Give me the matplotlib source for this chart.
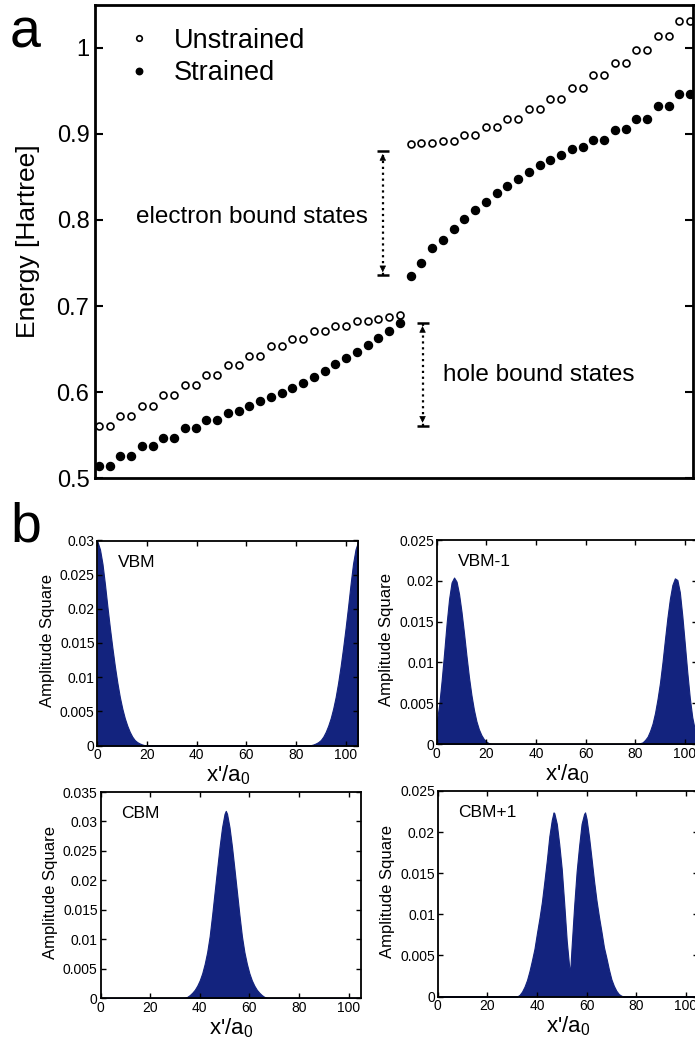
import matplotlib
matplotlib.use("Agg")
import matplotlib.pyplot as plt
from matplotlib.ticker import FuncFormatter, MultipleLocator

plt.rcParams['font.family'] = ['Liberation Sans', 'DejaVu Sans']
plt.rcParams['mathtext.fontset'] = 'custom'
plt.rcParams['mathtext.rm'] = 'Liberation Sans'
plt.rcParams['mathtext.it'] = 'Liberation Sans'

# -------------------------------
# Panel a: energy levels (state index vs energy)
# -------------------------------
hole_idx = list(range(1, 30))
elec_idx = list(range(30, 57))

unstrained_hole = [0.560, 0.560, 0.572, 0.572, 0.584, 0.584, 0.596, 0.596, 0.608, 0.608,
                   0.620, 0.620, 0.631, 0.631, 0.642, 0.642, 0.653, 0.653, 0.662, 0.662,
                   0.671, 0.671, 0.677, 0.677, 0.683, 0.683, 0.685, 0.687, 0.689]
strained_hole = [0.514, 0.514, 0.526, 0.526, 0.537, 0.537, 0.547, 0.547, 0.558, 0.558,
                 0.568, 0.568, 0.576, 0.578, 0.584, 0.589, 0.594, 0.599, 0.605, 0.611,
                 0.618, 0.625, 0.632, 0.640, 0.647, 0.655, 0.663, 0.671, 0.680]
unstrained_elec = [0.888, 0.889, 0.889, 0.892, 0.892, 0.899, 0.899, 0.908, 0.908, 0.917,
                   0.917, 0.929, 0.929, 0.941, 0.941, 0.954, 0.954, 0.969, 0.969, 0.983,
                   0.983, 0.998, 0.998, 1.014, 1.014, 1.031, 1.031]
strained_elec = [0.735, 0.750, 0.767, 0.777, 0.789, 0.801, 0.812, 0.821, 0.831, 0.840,
                 0.848, 0.856, 0.864, 0.870, 0.876, 0.882, 0.885, 0.893, 0.893, 0.905,
                 0.906, 0.918, 0.918, 0.932, 0.932, 0.946, 0.946]

# bound state ranges marked with arrows (state index, lower, upper energy)
electron_arrow = (27.4, 0.736, 0.880)
hole_arrow = (31.1, 0.561, 0.680)

# -------------------------------
# Panel b: amplitude squared along x'/a0
# -------------------------------
vbm_x = [0, 1, 2, 3, 4, 5, 6, 7, 8, 9, 10, 11, 12, 13, 14, 15, 16, 17, 18, 19, 20,
         85, 86, 87, 88, 89, 90, 91, 92, 93, 94, 95, 96, 97, 98, 99, 100, 101, 102, 103, 104, 105]
vbm_y = [0.0298, 0.0287, 0.0266, 0.0236, 0.0203, 0.0172, 0.0143, 0.0116, 0.0092, 0.0071,
         0.0054, 0.0040, 0.0029, 0.0020, 0.0013, 0.0008, 0.0005, 0.0003, 0.00015, 0.00005, 0.0,
         0.0, 0.00005, 0.00015, 0.0003, 0.0005, 0.0008, 0.0013, 0.0020, 0.0029, 0.0040,
         0.0054, 0.0071, 0.0092, 0.0116, 0.0143, 0.0172, 0.0203, 0.0236, 0.0266, 0.0287, 0.0298]

vbm1_x = [0, 1, 2, 3, 4, 5, 6, 7, 8, 9, 10, 11, 12, 13, 14, 15, 16, 17, 18, 19, 20, 21, 22,
          81, 82, 83, 84, 85, 86, 87, 88, 89, 90, 91, 92, 93, 94, 95, 96, 97, 98, 99, 100,
          101, 102, 103, 104, 105]
vbm1_y = [0.0027, 0.0048, 0.0078, 0.0112, 0.0148, 0.0178, 0.0198, 0.0204, 0.0199, 0.0184,
          0.0162, 0.0136, 0.0108, 0.0082, 0.0060, 0.0042, 0.0028, 0.0018, 0.0011, 0.0006,
          0.0003, 0.0001, 0.0,
          0.0, 0.0001, 0.0002, 0.0005, 0.0009, 0.0016, 0.0025, 0.0038, 0.0055, 0.0075,
          0.0100, 0.0128, 0.0155, 0.0178, 0.0195, 0.0203, 0.0201, 0.0186, 0.0157, 0.0123,
          0.0088, 0.0057, 0.0033, 0.0018, 0.0010]

cbm_x = [0, 33, 34, 35, 36, 37, 38, 39, 40, 41, 42, 43, 44, 45, 46, 47, 48, 49, 50, 50.5,
         51, 52, 53, 54, 55, 56, 57, 58, 59, 60, 61, 62, 63, 64, 65, 66, 67, 68, 105]
cbm_y = [0.0, 0.0, 0.00005, 0.0002, 0.0005, 0.0009, 0.0014, 0.0021, 0.0030, 0.0042, 0.0058,
         0.0078, 0.0105, 0.0141, 0.0180, 0.0219, 0.0257, 0.0290, 0.0313, 0.0318,
         0.0313, 0.0290, 0.0257, 0.0219, 0.0180, 0.0141, 0.0105, 0.0078, 0.0058, 0.0042,
         0.0030, 0.0021, 0.0014, 0.0009, 0.0005, 0.0002, 0.00005, 0.0, 0.0]

cbm1_x = [0, 32, 33, 34, 35, 36, 37, 38, 39, 40, 41, 42, 43, 44, 45, 46, 46.7, 47, 48, 49,
          50, 51, 52, 53, 53.4, 54, 55, 56, 57, 58, 59, 59.4, 60, 61, 62, 63, 64, 65, 66,
          67, 68, 69, 70, 71, 72, 73, 74, 75, 105]
cbm1_y = [0.0, 0.0, 0.0002, 0.0006, 0.0012, 0.0020, 0.0031, 0.0044, 0.0058, 0.0077, 0.0095,
          0.0115, 0.0140, 0.0166, 0.0195, 0.0215, 0.0224, 0.0223, 0.0210, 0.0185,
          0.0155, 0.0113, 0.0068, 0.0036, 0.0031, 0.0062, 0.0110, 0.0152, 0.0183, 0.0210,
          0.0222, 0.0224, 0.0216, 0.0194, 0.0168, 0.0141, 0.0117, 0.0097, 0.0079,
          0.0060, 0.0047, 0.0033, 0.0021, 0.0013, 0.0007, 0.0003, 0.0001, 0.0, 0.0]

W, H = 695, 1042


def px_box(left, top, right, bottom):
    return [left / W, 1 - bottom / H, (right - left) / W, (bottom - top) / H]


fmt_g = FuncFormatter(lambda v, p: f"{v:g}")

fig = plt.figure(figsize=(W / 100, H / 100), dpi=100)

# -------------------------------
# Panel a
# -------------------------------
ax = fig.add_axes(px_box(95, 5, 693, 478))
ax.plot(hole_idx, unstrained_hole, 'o', mfc='white', mec='black', mew=1.2, ms=5, label='Unstrained')
ax.plot(elec_idx, unstrained_elec, 'o', mfc='white', mec='black', mew=1.2, ms=5)
ax.plot(hole_idx, strained_hole, 'o', color='black', ms=5.8, label='Strained')
ax.plot(elec_idx, strained_elec, 'o', color='black', ms=5.8)

for xa, lo, hi in [electron_arrow, hole_arrow]:
    ax.plot([xa, xa], [lo, hi], ':', color='black', lw=1.6)
    ax.plot([xa], [hi], marker='_', color='black', ms=9, mew=1.8)
    ax.plot([xa], [lo], marker='_', color='black', ms=9, mew=1.8)
    ax.annotate('', xy=(xa, hi), xytext=(xa, hi - 0.012),
                arrowprops=dict(arrowstyle='-|>', color='black', lw=0.5, mutation_scale=10))
    ax.annotate('', xy=(xa, lo), xytext=(xa, lo + 0.012),
                arrowprops=dict(arrowstyle='-|>', color='black', lw=0.5, mutation_scale=10))

ax.text(26.0, 0.803, 'electron bound states', fontsize=17.5, ha='right', va='center')
ax.text(33.0, 0.620, 'hole bound states', fontsize=17.5, ha='left', va='center')

ax.set_xlim(0.63, 56.26)
ax.set_ylim(0.5, 1.05)
ax.set_xticks([])
ax.set_yticks([0.5, 0.6, 0.7, 0.8, 0.9, 1.0])
ax.yaxis.set_major_formatter(fmt_g)
ax.tick_params(axis='y', direction='in', right=True, length=6, width=1.5, labelsize=17, pad=4)
for s in ax.spines.values():
    s.set_linewidth(2)
ax.set_ylabel('Energy [Hartree]', fontsize=19)
ax.yaxis.set_label_coords(-0.092, 0.5)
ax.legend(loc='upper left', bbox_to_anchor=(0.032, 0.975), frameon=False, fontsize=19.5,
          handlelength=1.0, handletextpad=0.8, labelspacing=0.25, borderaxespad=0, markerscale=0.8)

fig.text(10 / W, 1 - 47 / H, 'a', fontsize=40, va='baseline')
fig.text(10 / W, 1 - 542 / H, 'b', fontsize=40, va='baseline')

# -------------------------------
# Panel b
# -------------------------------
navy = '#13237e'
panels = [
    (px_box(97.5, 540.5, 358, 745.5), vbm_x, vbm_y, 0.03, 'VBM'),
    (px_box(436.7, 540, 697.2, 744), vbm1_x, vbm1_y, 0.025, 'VBM-1'),
    (px_box(100.5, 792, 361, 998), cbm_x, cbm_y, 0.035, 'CBM'),
    (px_box(437.7, 791, 698.2, 996.5), cbm1_x, cbm1_y, 0.025, 'CBM+1'),
]
for rect, xs, ys, ytop, name in panels:
    bx = fig.add_axes(rect)
    bx.fill_between(xs, ys, 0, color=navy, lw=0.8)
    bx.set_xlim(0, 105)
    bx.set_ylim(0, ytop)
    bx.xaxis.set_major_locator(MultipleLocator(20))
    bx.yaxis.set_major_locator(MultipleLocator(0.005))
    bx.yaxis.set_major_formatter(fmt_g)
    bx.tick_params(direction='in', top=True, right=True, length=3.5, width=1, labelsize=10, pad=2)
    for s in bx.spines.values():
        s.set_linewidth(1.3)
    bx.text(0.08, 0.93, name, transform=bx.transAxes, fontsize=12.5, ha='left', va='top')
    bx.set_ylabel('Amplitude Square', fontsize=12)
    bx.yaxis.set_label_coords(-0.165, 0.51)
    bx.set_xlabel("x'/a$_0$", fontsize=16, labelpad=1)

fig.savefig('out.png', dpi=100)
